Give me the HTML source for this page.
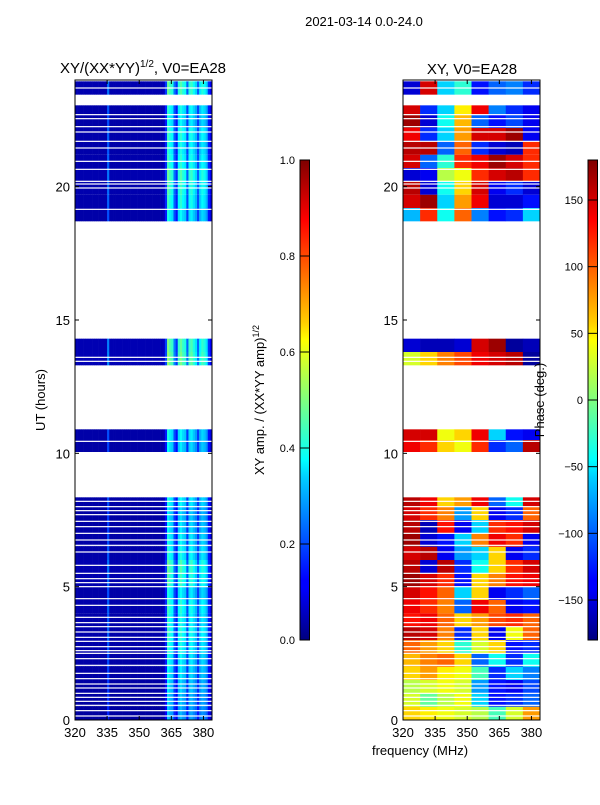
<!DOCTYPE html>
<html><head><meta charset="utf-8"><style>
body{margin:0;background:#fff;}
svg text{font-family:"Liberation Sans","DejaVu Sans",sans-serif;fill:#000;}
</style></head><body>
<svg id="fig" width="600" height="800" viewBox="0 0 600 800" xmlns="http://www.w3.org/2000/svg">
<defs>
<linearGradient id="jetg" x1="0" y1="1" x2="0" y2="0">
<stop offset="0" stop-color="#00007f"/><stop offset="0.11" stop-color="#0000ff"/><stop offset="0.125" stop-color="#0000ff"/>
<stop offset="0.34" stop-color="#00d0ff"/><stop offset="0.375" stop-color="#00ffff"/><stop offset="0.5" stop-color="#7fff7f"/>
<stop offset="0.625" stop-color="#ffff00"/><stop offset="0.66" stop-color="#ffd000"/><stop offset="0.875" stop-color="#ff0000"/>
<stop offset="1" stop-color="#7f0000"/></linearGradient>
</defs>
<text x="364" y="26" font-size="13" text-anchor="middle">2021-03-14 0.0-24.0</text>
<text x="143" y="73" font-size="15" text-anchor="middle">XY/(XX*YY)<tspan font-size="10" dy="-6">1/2</tspan><tspan dy="6">, V0=EA28</tspan></text>
<text x="472" y="74" font-size="15" text-anchor="middle">XY, V0=EA28</text>
<g id="ampPlot"></g>
<g id="phPlot"></g>
<g id="axes"></g>
<text transform="translate(45,400) rotate(-90)" font-size="13" text-anchor="middle">UT (hours)</text>
<text x="420" y="755" font-size="13" text-anchor="middle">frequency (MHz)</text>
<text transform="translate(264,400) rotate(-90)" font-size="13" text-anchor="middle">XY amp. / (XX*YY amp)<tspan font-size="9" dy="-5">1/2</tspan></text>
<rect x="300" y="160" width="9.5" height="480" fill="url(#jetg)" stroke="#000" stroke-width="1"/>
<rect x="588" y="160" width="9.5" height="480" fill="url(#jetg)" stroke="#000" stroke-width="1"/>
<g id="cbticks"></g>
<text transform="translate(544,400) rotate(-90)" font-size="13" text-anchor="middle">Phase (deg.)</text>
</svg>
<script>
const freqMin=320, freqMax=384, tMin=0, tMax=24;
const xTicks=[320,335,350,365,380];
const yTicks=[0,5,10,15,20];
const ampTicks=["0.0","0.2","0.4","0.6","0.8","1.0"];
const phaseTicks=[-150,-100,-50,0,50,100,150];
// amplitude per 1 MHz channel (320..383)
const colAmp=[0.04,0.04,0.04,0.04,0.04,0.04,0.04,0.04,0.04,0.04,0.04,0.04,0.04,0.04,0.04,0.2,
0.04,0.04,0.04,0.04,0.04,0.04,0.04,0.04,0.04,0.04,0.04,0.04,0.04,0.04,0.04,0.04,
0.04,0.04,0.04,0.04,0.04,0.04,0.04,0.04,0.04,0.05,0.15,0.4,0.36,0.34,0.2,0.14,
0.34,0.38,0.34,0.32,0.18,0.34,0.36,0.32,0.28,0.18,0.3,0.34,0.32,0.28,0.14,0.1];
const rowStart=[0,0.5,1,1.5,2,2.5,3,3.5,4,4.5,5,5.5,6,6.5,7,7.5,8,10.05,10.5,13.3,13.8,18.7,19.2,19.7,20.2,20.7,21.2,21.7,22.2,22.7,23.45];
const rowEnd=[0.5,1,1.5,2,2.5,3,3.5,4,4.5,5,5.5,6,6.5,7,7.5,8,8.35,10.5,10.9,13.8,14.3,19.2,19.7,20.2,20.7,21.2,21.7,22.2,22.7,23.05,23.95];
const ampGain=[0.8,0.85,0.9,0.95,1.0,1.05,1.1,1.05,1.1,1.0,1.15,1.2,1.05,1.0,0.95,0.9,1.0,0.95,1.0,1.3,1.25,1.0,1.1,1.15,1.2,1.1,1.05,1.1,1.0,1.05,1.2];
const phaseRows=[
[60,50,40,30,20,-20,30,80],[30,-10,20,40,-60,-130,-120,-100],[20,30,40,30,-80,-130,-140,-110],
[60,80,50,40,-20,-120,-60,-90],[70,90,100,60,-100,-40,-120,-40],[100,80,60,-30,30,60,-130,-120],
[160,150,90,-120,60,-140,40,100],[130,140,100,60,80,110,120,100],[140,120,90,-100,140,100,-140,-130],
[150,130,100,-60,60,-140,-120,-100],[170,150,120,-130,60,90,130,140],[160,-150,160,-120,-40,60,120,150],
[150,160,-140,-80,-60,60,-140,-120],[170,-150,-130,-60,90,140,120,-140],[160,-160,130,-140,-60,120,130,150],
[150,120,90,-80,60,-140,-120,100],[160,140,60,80,140,-100,-40,150],
[140,120,60,40,120,-120,-100,160],[150,150,40,60,140,-60,-130,-140],
[30,60,90,110,140,150,160,-170],[-150,-160,-160,-150,150,170,-170,-160],
[-70,120,-40,100,-90,-130,-120,-60],[150,170,-60,80,140,-150,-150,-130],[160,-150,-40,60,150,-140,-120,-150],
[-150,-140,20,40,120,150,160,120],[150,-100,-30,120,140,170,150,120],[160,160,-100,100,-120,-150,-160,120],
[140,-120,-60,80,150,150,170,-140],[170,-150,-40,70,-100,-130,-110,-140],[150,-120,-60,50,140,-90,-120,-140],
[-150,150,-60,-30,-130,-100,-90,-120]];
const flagTimes=[0.15,0.35,0.55,0.7,0.85,1.0,1.2,1.35,1.55,1.75,2.05,2.3,2.5,2.6,2.75,2.95,3.1,3.3,3.5,3.65,3.85,4.3,4.55,5.0,5.15,5.3,5.5,5.8,6.3,6.55,6.75,7.0,7.25,7.45,7.7,7.85,8.0,8.2,10.45,13.45,13.6,19.15,19.95,20.1,20.2,20.65,20.95,21.45,21.7,22.05,22.25,22.55,22.7,23.7];

const NS='http://www.w3.org/2000/svg';
const panels=[{x0:75,x1:212},{x0:403,x1:540}];
const Y0=720,Y1=80;
function yS(t){return Y0-(t-tMin)/(tMax-tMin)*(Y0-Y1);}
function xS(p,f){return p.x0+(f-freqMin)/(freqMax-freqMin)*(p.x1-p.x0);}
function clip(v){return Math.max(0,Math.min(1,v));}
function jet(v){v=clip(v);const r=clip(1.5-Math.abs(4*v-3)),g=clip(1.5-Math.abs(4*v-2)),b=clip(1.5-Math.abs(4*v-1));
return 'rgb('+Math.round(r*255)+','+Math.round(g*255)+','+Math.round(b*255)+')';}
function mk(tag,attrs,parent){const e=document.createElementNS(NS,tag);for(const k in attrs)e.setAttribute(k,attrs[k]);parent.appendChild(e);return e;}
const ampG=document.getElementById('ampPlot'), phG=document.getElementById('phPlot'), ax=document.getElementById('axes');
for(let r=0;r<rowStart.length;r++){
  const ya=yS(rowEnd[r]), yb=yS(rowStart[r]);
  for(let c=0;c<colAmp.length;c++){
    const f0=freqMin+c*(freqMax-freqMin)/colAmp.length, f1=freqMin+(c+1)*(freqMax-freqMin)/colAmp.length;
    const el=mk('rect',{x:xS(panels[0],f0),y:ya,width:xS(panels[0],f1)-xS(panels[0],f0)+0.3,height:yb-ya,fill:jet(colAmp[c]*ampGain[r])},ampG);
    
    
  }
  const pr=phaseRows[r];
  for(let c=0;c<pr.length;c++){
    const f0=freqMin+c*(freqMax-freqMin)/pr.length, f1=freqMin+(c+1)*(freqMax-freqMin)/pr.length;
    const el=mk('rect',{x:xS(panels[1],f0),y:ya,width:xS(panels[1],f1)-xS(panels[1],f0)+0.3,height:yb-ya,fill:jet((pr[c]+180)/360)},phG);
    
    
  }
}
for(const p of panels){
  for(const t of flagTimes){
    const el=mk('rect',{x:p.x0,y:yS(t)-0.6,width:p.x1-p.x0,height:1.2,fill:'#fff'},ax);
    
    
  }
}
for(let i=0;i<panels.length;i++){
  const p=panels[i];
  const fr=mk('rect',{x:p.x0,y:Y1,width:p.x1-p.x0,height:Y0-Y1,fill:'none',stroke:'#000','stroke-width':1},ax);
  
  
  for(const f of xTicks){
    const x=xS(p,f);
    mk('line',{x1:x,y1:Y0,x2:x,y2:Y0-4,stroke:'#000'},ax);
    mk('line',{x1:x,y1:Y1,x2:x,y2:Y1+4,stroke:'#000'},ax);
    const tx=mk('text',{x:x,y:Y0+17,'font-size':13,'text-anchor':'middle'},ax);
    tx.textContent=f;
    
    
  }
  for(const t of yTicks){
    const y=yS(t);
    mk('line',{x1:p.x0,y1:y,x2:p.x0+4,y2:y,stroke:'#000'},ax);
    mk('line',{x1:p.x1,y1:y,x2:p.x1-4,y2:y,stroke:'#000'},ax);
    const tx=mk('text',{x:p.x0-5,y:y+5,'font-size':13,'text-anchor':'end'},ax);
    tx.textContent=t;
    
    
  }
}
const cb=document.getElementById('cbticks');
for(let i=0;i<ampTicks.length;i++){
  const y=640-i/(ampTicks.length-1)*480;
  mk('line',{x1:300,y1:y,x2:309.5,y2:y,stroke:'#000'},cb);
  const tx=mk('text',{x:295,y:y+4,'font-size':11,'text-anchor':'end'},cb);
  tx.textContent=ampTicks[i];
  
  
}
for(const v of phaseTicks){
  const y=640-(v+180)/360*480;
  mk('line',{x1:588,y1:y,x2:597.5,y2:y,stroke:'#000'},cb);
  const tx=mk('text',{x:583,y:y+4,'font-size':11,'text-anchor':'end'},cb);
  tx.textContent=v<0?'\u2212'+(-v):String(v);
  
  
}
</script>
</body></html>
